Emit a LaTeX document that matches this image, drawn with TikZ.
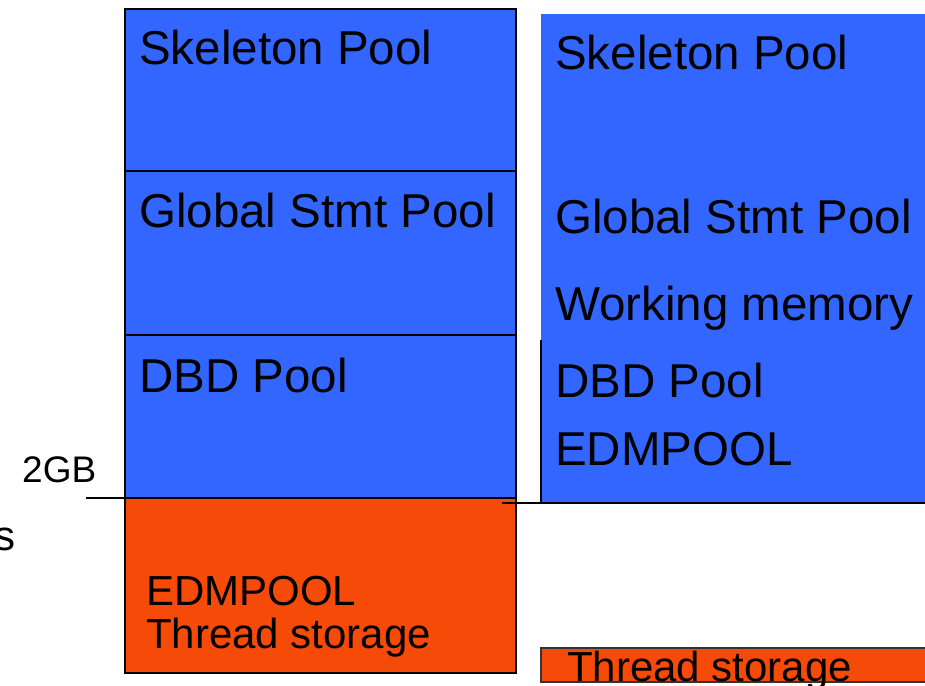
\documentclass[tikz,border=0pt]{standalone}
\usepackage{fontspec}
\setmainfont{Liberation Sans}
\usetikzlibrary{positioning}
\definecolor{PoolBlue}{HTML}{3366FF}
\definecolor{ThreadOrange}{HTML}{F54A08}

\begin{document}
\begin{tikzpicture}[
    x=1pt, y=-1pt,
    pool/.style={draw=black, line width=2pt, fill=PoolBlue, inner sep=0pt, outer sep=0pt, minimum width=391pt},
    bigtext/.style={anchor=base west, inner sep=0pt, font=\fontsize{47.5}{57}\selectfont},
    smalltext/.style={anchor=base west, inner sep=0pt, font=\fontsize{42}{50}\selectfont}
]
\useasboundingbox (0,0) rectangle (925,685);

% === LEFT COLUMN ===
\node[pool, minimum height=162pt] (lskel) at (320.5, 90) {};
\node[pool, minimum height=164pt] (lglobal) at (320.5, 253) {};
\node[pool, minimum height=163pt] (ldbd) at (320.5, 416.5) {};
\node[pool, fill=ThreadOrange, minimum height=175pt] (lthread) at (320.5, 585.5) {};

\node[bigtext] (lskeltext) at (139, 64) {Skeleton Pool};
\node[bigtext] (lglobaltext) at (139, 227) {Global Stmt Pool};
\node[bigtext] (ldbdtext) at (139, 392) {DBD Pool};
\node[smalltext] (ledmtext) at (146, 605) {EDMPOOL};
\node[smalltext] (lthreadtext) at (146, 648) {Thread storage};

% 2GB mark
\coordinate (bar2gb) at (86, 498);
\draw[line width=2pt] (bar2gb) -- (ldbd.south west);
\node[anchor=base west, inner sep=0pt, font=\fontsize{37}{44}\selectfont] (gbtext) at (22, 482) {2GB};
\node[smalltext] (cuttext) at (-6, 550) {s};

% === RIGHT COLUMN ===
\node[fill=PoolBlue, inner sep=0pt, outer sep=0pt, minimum width=389pt, minimum height=489pt] (rpool) at (735.5, 258.5) {};
\coordinate (redge) at (541, 340);
\coordinate (rline) at (502, 503);
\draw[line width=2pt] (redge) -- (rpool.south west);
\draw[line width=2.5pt] (rline) -- (rpool.south east);

\node[bigtext] (rskeltext) at (555, 69) {Skeleton Pool};
\node[bigtext] (rglobaltext) at (555, 233) {Global Stmt Pool};
\node[bigtext] (rworktext) at (555, 320) {Working memory};
\node[bigtext] (rdbdtext) at (555, 397) {DBD Pool};
\node[bigtext] (redmtext) at (555, 465) {EDMPOOL};

% Thread storage bar
\node[draw=black!80, line width=1.5pt, fill=ThreadOrange, inner sep=0pt, minimum width=389pt, minimum height=34pt] (rthread) at (735.5, 665) {};
\node[smalltext] (rthreadtext) at (567, 681) {Thread storage};

\end{tikzpicture}
\end{document}
